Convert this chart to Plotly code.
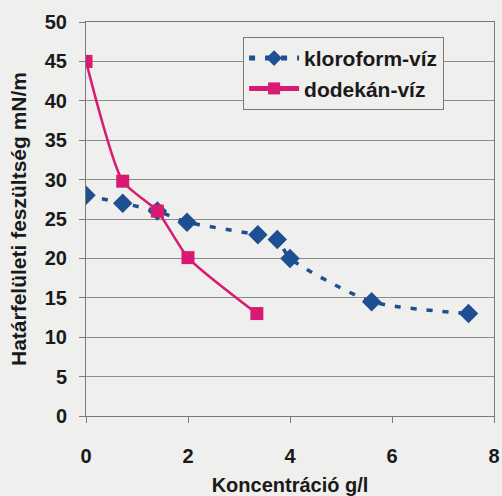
import plotly.graph_objects as go

klor_x = [0, 0.72, 1.4, 1.98, 3.37, 3.75, 4.0, 5.6, 7.5]
klor_y = [28, 27, 26, 24.6, 23, 22.4, 20, 14.5, 13]
dode_x = [0, 0.72, 1.4, 2.0, 3.35]
dode_y = [45, 29.8, 26, 20.1, 13]
x_ticks = [0, 2, 4, 6, 8]
y_ticks = list(range(0, 51, 5))

BLUE = "#1d4f92"
PINK = "#d91a72"
FONT = "Arial, Liberation Sans, sans-serif"

fig = go.Figure()
fig.add_trace(go.Scatter(
    x=klor_x, y=klor_y, name="kloroform-víz", mode="lines+markers",
    line=dict(color=BLUE, width=3.5, dash="6px,10px", shape="spline", smoothing=0.6),
    marker=dict(symbol="diamond", size=15, color=BLUE),
))
fig.add_trace(go.Scatter(
    x=dode_x, y=dode_y, name="dodekán-víz", mode="lines+markers",
    line=dict(color=PINK, width=2.5, shape="spline", smoothing=0.6),
    marker=dict(symbol="square", size=13, color=PINK),
))

fig.update_layout(
    width=502, height=496,
    margin=dict(l=86, r=8, t=22, b=80),
    paper_bgcolor="#efefed", plot_bgcolor="#efefed",
    font=dict(family=FONT, size=16, color="#1a1a1a", weight=700),
    showlegend=True,
    legend=dict(
        x=0.385, y=0.962, xanchor="left", yanchor="top",
        bgcolor="#efefed", bordercolor="#7a7a7a", borderwidth=1,
        font=dict(family=FONT, size=21, color="#1a1a1a", weight=700),
        itemwidth=50, tracegroupgap=0, itemsizing="constant",
    ),
)
fig.update_xaxes(
    range=[0, 8], tickvals=x_ticks,
    showgrid=False, automargin=False,
    showline=True, linecolor="#7a7a7a", linewidth=1, mirror=True,
    ticks="outside", ticklen=6, tickcolor="#7a7a7a",
    ticklabelstandoff=16, zeroline=False,
    tickfont=dict(family=FONT, size=20, weight=700),
    title=dict(text="Koncentráció g/l", standoff=17,
               font=dict(family=FONT, size=20, weight=700)),
)
fig.update_yaxes(
    range=[0, 50], tickvals=y_ticks,
    showgrid=True, gridcolor="#8c8c8c", gridwidth=1, automargin=False,
    showline=True, linecolor="#7a7a7a", linewidth=1, mirror=True,
    ticks="outside", ticklen=6, tickcolor="#7a7a7a",
    ticklabelstandoff=8, zeroline=False,
    tickfont=dict(family=FONT, size=20, weight=700),
    title=dict(text="Határfelületi feszültség mN/m", standoff=12,
               font=dict(family=FONT, size=21, weight=700)),
)

fig.write_html("out.html")
